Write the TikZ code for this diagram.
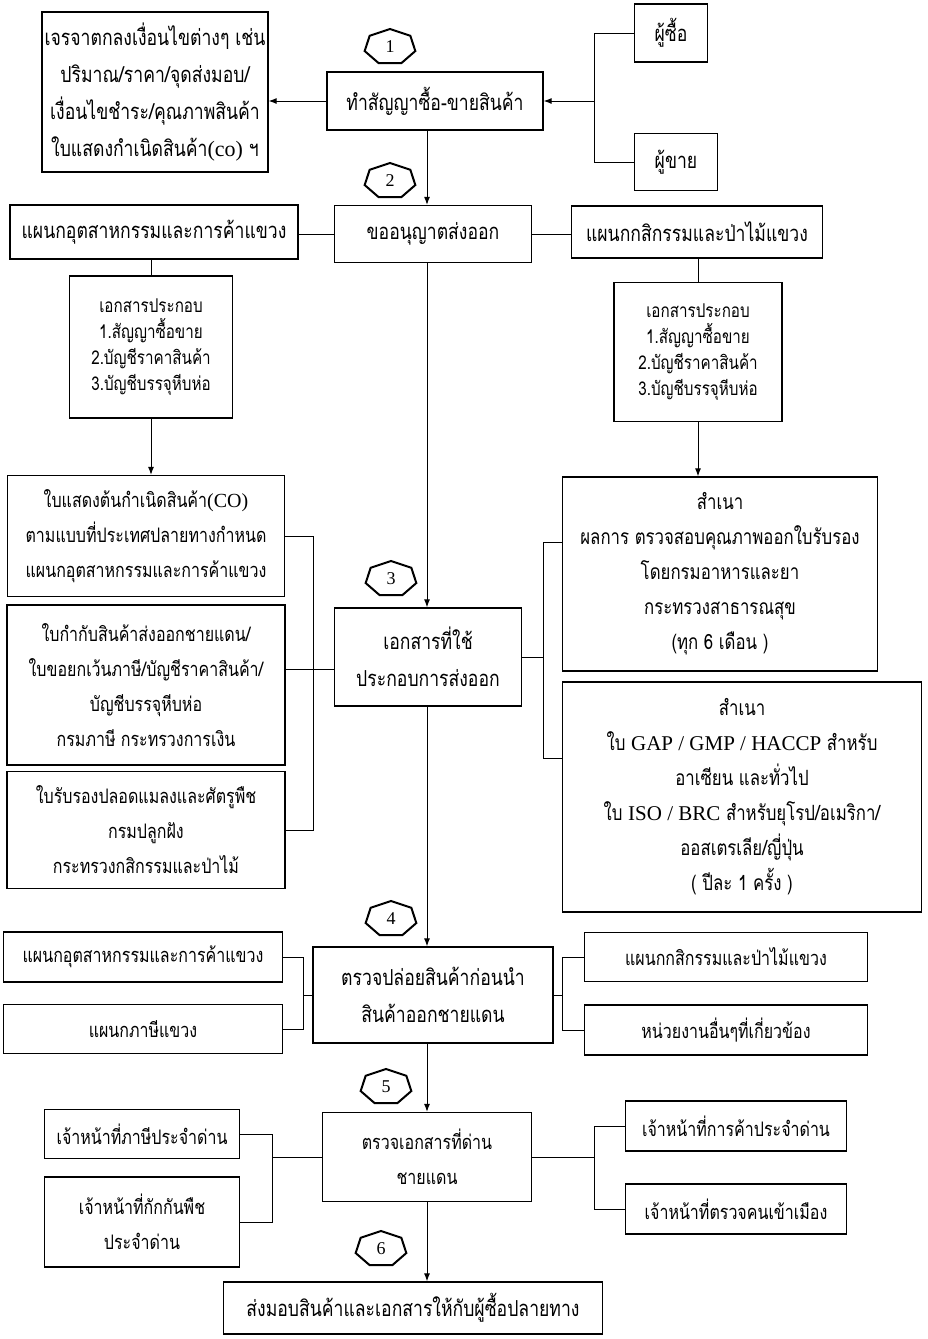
\documentclass[tikz,border=0pt]{standalone}
\usepackage{fontspec}
\setmainfont{Liberation Serif}
\newfontfamily\thai[Script=Thai,FakeStretch=0.8]{Loma}
\usetikzlibrary{arrows.meta}
\newcommand\latn[1]{{\rmfamily #1}}

\begin{document}
\begin{tikzpicture}[
    x=1pt, y=-1pt,
    every node/.style={font=\thai\fontsize{22}{37}\selectfont, inner sep=0pt},
    box/.style={draw, line width=1.3pt, align=center},
    doc/.style={box, font=\thai\fontsize{19}{26}\selectfont},
    mid/.style={box, font=\thai\fontsize{20}{35}\selectfont},
    copybox/.style={box, font=\thai\fontsize{21}{35}\selectfont},
    link/.style={line width=1pt},
    go/.style={link, -{Latex[length=8pt,width=6pt]}},
    hept/.style={line width=2pt}
  ]
  \useasboundingbox (0,0) rectangle (927,1339);
  \coordinate (spine) at (427,0);

  % Step 1: contract between buyer and seller
  \node[box, minimum width=226, minimum height=160] (Neg) at (155,92)
    {เจรจาตกลงเงื่อนไขต่างๆ เช่น\\ปริมาณ/ราคา/จุดส่งมอบ/\\เงื่อนไขชำระ/คุณภาพสินค้า\\ใบแสดงกำเนิดสินค้า\latn{(co)} ฯ};
  \node[box, minimum width=216, minimum height=58] (K) at (435,101) {ทำสัญญาซื้อ-ขายสินค้า};
  \node[box, minimum width=73, minimum height=58] (Buy) at (671,33) {ผู้ซื้อ};
  \node[box, minimum width=83, minimum height=57] (Sell) at (676,162) {ผู้ขาย};
  \coordinate (brK) at (594,0);
  \draw[link] (Buy.west) -| (brK |- Sell.west) -- (Sell.west);
  \draw[go] (brK |- K.east) -- (K.east);
  \draw[go] (K.west) -- (K.west -| Neg.east);

  % Step 2: export permit
  \node[box, minimum width=288, minimum height=54] (Ind) at (154,232) {แผนกอุตสาหกรรมและการค้าแขวง};
  \node[box, minimum width=197, minimum height=57] (P) at (433,234) {ขออนุญาตส่งออก};
  \node[box, minimum width=251, minimum height=52] (Agr) at (697,232) {แผนกกสิกรรมและป่าไม้แขวง};
  \node[doc, minimum width=163, minimum height=142] (DL) at (151,347)
    {เอกสารประกอบ\\1.สัญญาซื้อขาย\\2.บัญชีราคาสินค้า\\3.บัญชีบรรจุหีบห่อ};
  \node[doc, minimum width=168, minimum height=139] (DR) at (698,352)
    {เอกสารประกอบ\\1.สัญญาซื้อขาย\\2.บัญชีราคาสินค้า\\3.บัญชีบรรจุหีบห่อ};
  \draw[go] (K.south -| spine) -- (P.north -| spine);
  \draw[link] (P.west) -- (P.west -| Ind.east);
  \draw[link] (P.east) -- (P.east -| Agr.west);
  \draw[link] (DL.north |- Ind.south) -- (DL.north);
  \draw[link] (DR.north |- Agr.south) -- (DR.north);

  % Step 3: documents for export
  \node[mid, minimum width=277, minimum height=121] (CO) at (146,536)
    {ใบแสดงต้นกำเนิดสินค้า\latn{(CO)}\\ตามแบบที่ประเทศปลายทางกำหนด\\แผนกอุตสาหกรรมและการค้าแขวง};
  \node[mid, minimum width=278, minimum height=160] (Inv) at (146,685)
    {ใบกำกับสินค้าส่งออกชายแดน/\\ใบขอยกเว้นภาษี/บัญชีราคาสินค้า/\\บัญชีบรรจุหีบห่อ\\กรมภาษี กระทรวงการเงิน};
  \node[mid, minimum width=278, minimum height=117] (Pest) at (146,830)
    {ใบรับรองปลอดแมลงและศัตรูพืช\\กรมปลูกฝัง\\กระทรวงกสิกรรมและป่าไม้};
  \node[box, minimum width=187, minimum height=98] (D) at (428,657) {เอกสารที่ใช้\\ประกอบการส่งออก};
  \node[copybox, minimum width=315, minimum height=194] (C1) at (720,574)
    {สำเนา\\ผลการ ตรวจสอบคุณภาพออกใบรับรอง\\โดยกรมอาหารและยา\\กระทรวงสาธารณสุข\\(ทุก 6 เดือน )};
  \node[copybox, minimum width=359, minimum height=230] (C2) at (742,797)
    {สำเนา\\ใบ \latn{GAP / GMP / HACCP} สำหรับ\\อาเซียน และทั่วไป\\ใบ \latn{ISO / BRC} สำหรับยุโรป/อเมริกา/\\ออสเตรเลีย/ญี่ปุ่น\\( ปีละ 1 ครั้ง )};
  \coordinate (brL) at (313,0);
  \coordinate (brR) at (543,0);
  \draw[go] (DL.south) -- (DL.south |- CO.north);
  \draw[go] (DR.south) -- (DR.south |- C1.north);
  \draw[go] (P.south -| spine) -- (D.north -| spine);
  \draw[link] (CO.east) -| (brL |- Pest.east) -- (Pest.east);
  \draw[link] ([yshift=-12pt]D.west) -- ([yshift=-12pt]D.west -| Inv.east);
  \draw[link] ([yshift=32pt]C1.west) -| ([yshift=39pt]C2.west -| brR) -- ([yshift=39pt]C2.west);
  \draw[link] (D.east) -- (D.east -| brR);

  % Step 4: release check before leaving
  \node[box, minimum width=240, minimum height=96] (X) at (433,995) {ตรวจปล่อยสินค้าก่อนนำ\\สินค้าออกชายแดน};
  \node[mid, minimum width=279, minimum height=50] (XL1) at (143,957) {แผนกอุตสาหกรรมและการค้าแขวง};
  \node[mid, minimum width=279, minimum height=49] (XL2) at (143,1029) {แผนกภาษีแขวง};
  \node[mid, minimum width=283, minimum height=49] (XR1) at (726,957) {แผนกกสิกรรมและป่าไม้แขวง};
  \node[mid, minimum width=283, minimum height=50] (XR2) at (726,1030) {หน่วยงานอื่นๆที่เกี่ยวข้อง};
  \coordinate (brXL) at (303,0);
  \coordinate (brXR) at (562,0);
  \draw[go] (D.south -| spine) -- (X.north -| spine);
  \draw[link] (XL1.east) -| (brXL |- XL2.east) -- (XL2.east);
  \draw[link] (X.west) -- (X.west -| brXL);
  \draw[link] (XR1.west) -| (brXR |- XR2.west) -- (XR2.west);
  \draw[link] (X.east) -- (X.east -| brXR);

  % Step 5: border checkpoint
  \node[mid, minimum width=209, minimum height=89] (B) at (427,1157) {ตรวจเอกสารที่ด่าน\\ชายแดน};
  \node[mid, minimum width=195, minimum height=49] (BL1) at (142,1134) {เจ้าหน้าที่ภาษีประจำด่าน};
  \node[mid, minimum width=195, minimum height=90] (BL2) at (142,1222) {เจ้าหน้าที่กักกันพืช\\ประจำด่าน};
  \node[mid, minimum width=221, minimum height=50] (BR1) at (736,1126) {เจ้าหน้าที่การค้าประจำด่าน};
  \node[mid, minimum width=221, minimum height=50] (BR2) at (736,1209) {เจ้าหน้าที่ตรวจคนเข้าเมือง};
  \coordinate (brBL) at (272,0);
  \coordinate (brBR) at (594,0);
  \draw[go] (X.south -| spine) -- (B.north -| spine);
  \draw[link] (BL1.east) -| (brBL |- BL2.east) -- (BL2.east);
  \draw[link] (B.west) -- (B.west -| brBL);
  \draw[link] (BR1.west) -| (brBR |- BR2.west) -- (BR2.west);
  \draw[link] (B.east) -- (B.east -| brBR);

  % Step 6: hand over to buyer
  \node[box, minimum width=379, minimum height=52] (G) at (413,1308) {ส่งมอบสินค้าและเอกสารให้กับผู้ซื้อปลายทาง};
  \draw[go] (B.south -| spine) -- (G.north -| spine);

  % step markers
  \node[font=\rmfamily\fontsize{18}{18}\selectfont] (H1) at (390,47) {1};
  \node[font=\rmfamily\fontsize{18}{18}\selectfont] (H2) at (390,181) {2};
  \node[font=\rmfamily\fontsize{18}{18}\selectfont] (H3) at (391,579) {3};
  \node[font=\rmfamily\fontsize{18}{18}\selectfont] (H4) at (391,919) {4};
  \node[font=\rmfamily\fontsize{18}{18}\selectfont] (H5) at (386,1087) {5};
  \node[font=\rmfamily\fontsize{18}{18}\selectfont] (H6) at (381,1249) {6};
  \foreach \h in {H1,H2,H3,H4,H5,H6}
    \draw[hept] ([shift={(90:26pt and 18pt)}]\h.center)
      \foreach \k in {1,...,6} { -- ([shift={({90+\k*51.4286}:26pt and 18pt)}]\h.center) } -- cycle;
\end{tikzpicture}
\end{document}
